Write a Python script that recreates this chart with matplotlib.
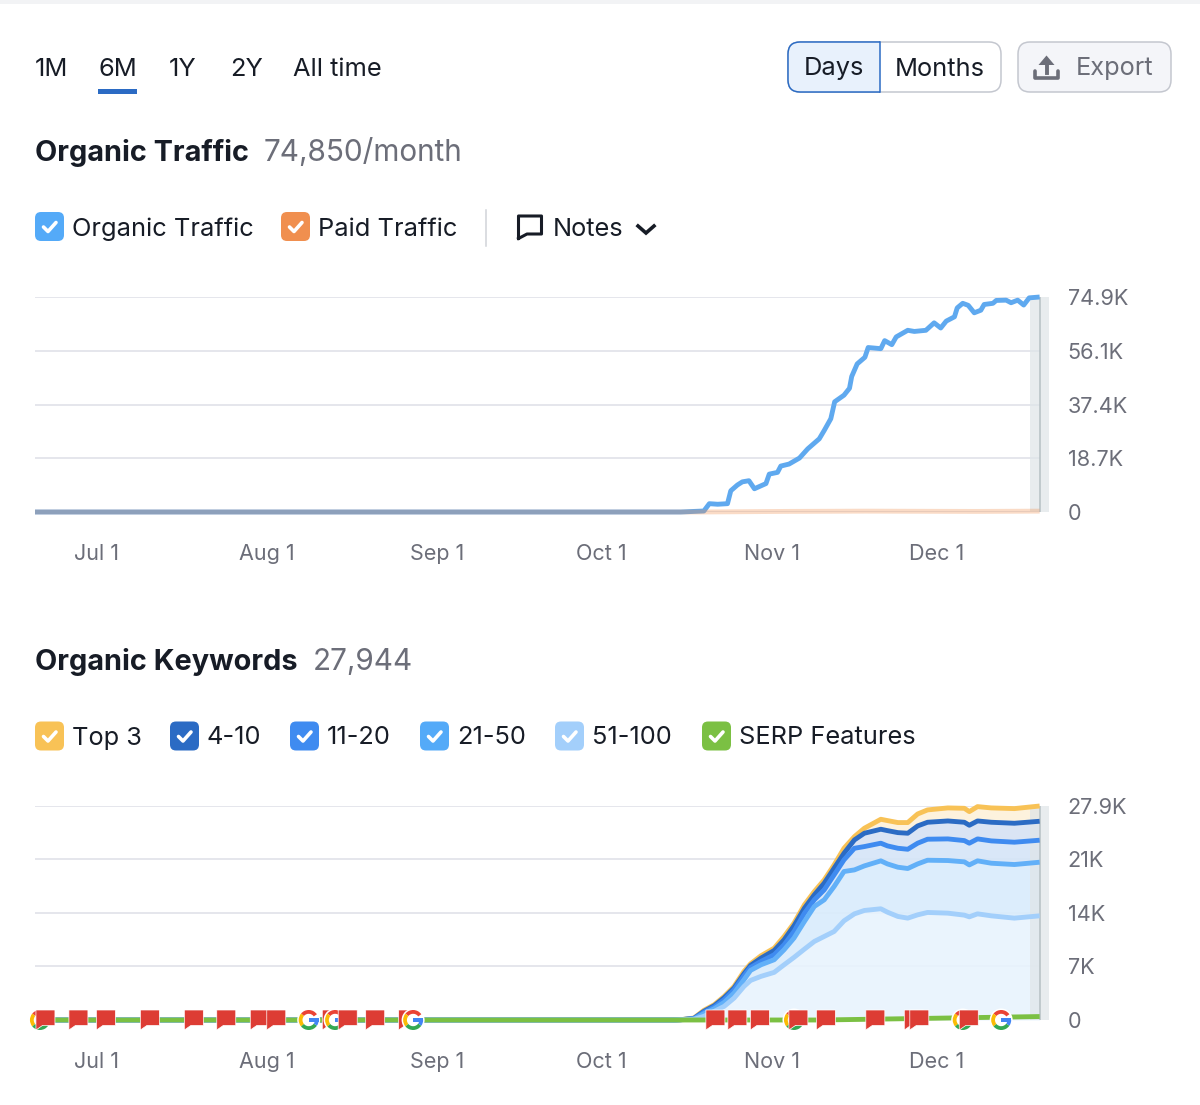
"""Organic Traffic / Organic Keywords dashboard card."""
import matplotlib
matplotlib.use("Agg")
import matplotlib.pyplot as plt
from matplotlib.patches import FancyBboxPatch, Polygon, Rectangle, Wedge

plt.rcParams["font.family"] = ["Inter", "DejaVu Sans"]

# ---------------------------------------------------------------------
# Data (x values are days after Jul 1, y values are thousands)
# ---------------------------------------------------------------------
MONTH_DAYS = [0, 31, 62, 92, 123, 153]
MONTH_LABELS = ["Jul 1", "Aug 1", "Sep 1", "Oct 1", "Nov 1", "Dec 1"]

TRAFFIC_DAYS = [-11.1, 106.4, 110.6, 111.6, 113.1, 114.9, 115.5, 116.7, 117.6, 118.8,
                119.8, 121.9, 122.5, 124.0, 124.6, 126.1, 128.0, 129.5, 131.6, 132.5,
                133.7, 134.4, 136.1, 137.1, 137.5, 138.5, 139.9, 140.5, 142.8, 143.5,
                144.8, 145.6, 147.7, 148.9, 151.0, 152.5, 153.7, 154.7, 156.2, 156.7,
                157.7, 158.7, 159.8, 161.0, 161.6, 163.2, 163.8, 165.6, 166.5, 167.7,
                168.8, 169.8, 171.7]
ORGANIC_TRAFFIC = [0, 0, 0.35, 2.9, 2.7, 2.9, 7.4, 9.4, 10.5, 10.9,
                   8.1, 9.9, 13.2, 13.8, 16.0, 16.7, 18.8, 22.0, 25.5, 28.4,
                   32.5, 38.4, 40.7, 43.1, 47.2, 51.6, 53.9, 57.3, 56.9, 59.7,
                   58.3, 61.0, 63.3, 62.9, 63.3, 65.9, 64.1, 66.5, 68.0, 71.1,
                   72.7, 72.0, 69.4, 70.3, 72.3, 72.7, 73.7, 73.8, 72.9, 73.8,
                   72.1, 74.6, 74.9]
PAID_DAYS = [-11.1, 110, 125, 140, 160, 171.7]
PAID_TRAFFIC = [0, 0, 0.2, 0.3, 0.2, 0.3]
TRAFFIC_TICKS = [0, 18.7, 37.4, 56.1, 74.9]
TRAFFIC_TICK_LABELS = ["0", "18.7K", "37.4K", "56.1K", "74.9K"]

KW_DAYS = [-11.1, 105.0, 106.4, 108.8, 110.6, 112.5, 114.3, 116.1, 117.9, 119.1, 121.0,
           123.4, 125.2, 127.0, 128.9, 130.7, 132.5, 134.3, 136.1, 138.0, 139.8,
           142.8, 144.0, 145.9, 147.7, 149.5, 151.3, 155.0, 158.0, 158.9, 160.4,
           162.9, 167.1, 171.7]
TOP_3 = [0, 0, 0.04, 0.26, 1.26, 2.0, 3.08, 4.38, 6.34, 7.33, 8.38,
         9.37, 10.89, 12.63, 15.02, 16.75, 18.27, 20.22, 22.39, 23.91, 25.0,
         26.17, 26.0, 25.74, 25.74, 26.86, 27.39, 27.65, 27.6, 27.17, 27.82,
         27.65, 27.56, 27.9]
POS_4_10 = [0, 0, 0.04, 0.22, 1.13, 1.87, 2.91, 4.17, 6.03, 7.12, 8.07,
            9.07, 10.46, 12.28, 14.58, 16.32, 17.84, 19.79, 21.74, 23.48, 24.35,
            24.87, 24.69, 24.43, 24.35, 25.3, 25.78, 25.95, 25.78, 25.39, 25.95,
            25.78, 25.65, 25.91]
POS_11_20 = [0, 0, 0.04, 0.17, 1.0, 1.69, 2.65, 3.95, 5.77, 6.86, 7.64,
             8.51, 9.81, 11.54, 13.93, 15.67, 16.97, 18.92, 20.88, 22.39, 22.61,
             23.05, 22.7, 22.39, 22.26, 23.05, 23.57, 23.61, 23.39, 23.05, 23.61,
             23.35, 23.18, 23.44]
POS_21_50 = [0, 0, 0.04, 0.13, 0.82, 1.48, 2.3, 3.52, 5.25, 6.47, 7.2,
             7.86, 9.16, 10.68, 12.85, 14.8, 15.67, 17.4, 19.36, 19.57, 20.09,
             20.75, 20.35, 19.92, 19.75, 20.35, 20.83, 20.79, 20.62, 20.22, 20.75,
             20.44, 20.27, 20.57]
POS_51_100 = [0, 0, 0.04, 0.09, 0.48, 1.13, 1.78, 2.86, 4.38, 5.16, 5.69,
              6.21, 7.2, 8.16, 9.24, 10.24, 10.89, 11.54, 12.93, 13.84, 14.28,
              14.5, 14.06, 13.5, 13.28, 13.71, 14.02, 13.93, 13.67, 13.45, 13.84,
              13.58, 13.28, 13.58]
SERP_DAYS = [-11.1, 132, 150, 171.7]
SERP_FEATURES = [0, 0, 0.2, 0.45]
KW_TICKS = [0, 7, 14, 21, 27.9]
KW_TICK_LABELS = ["0", "7K", "14K", "21K", "27.9K"]

NOTE_DAYS = [-9.2, -3.2, 1.8, 9.8, 17.8, 23.7, 29.8, 32.8, 42.9, 45.8, 50.8, 56.8,
             112.7, 116.7, 120.8, 127.8, 132.8, 141.8, 148.8, 149.8, 158.8]
GOOGLE_DAYS = [-10.2, 38.7, 43.5, 57.7, 127.0, 157.7, 164.7]

# ---------------------------------------------------------------------
# Style
# ---------------------------------------------------------------------
W, H = 1200, 1105
INK = "#171c26"
GREY = "#6c6e79"
GRID = "#e0e1e9"
BORDER = "#c4c7cf"
BLUE = "#54aaf8"
ORANGE = "#f08f4f"
YELLOW = "#f8c256"
DARK = "#2b6bc4"
MID = "#3f8bf0"
LIGHT = "#62b0f8"
PALE = "#a3cffb"
GREEN = "#7bc043"
LINE_W = 3.5
X_MIN, X_MAX = -11.1, 173.4

fig = plt.figure(figsize=(W / 100, H / 100), dpi=100, facecolor="white")


def px_axes(left, top, right, bottom, **kw):
    return fig.add_axes([left / W, 1 - bottom / H, (right - left) / W, (bottom - top) / H], **kw)


def chart_axes(top, bottom, ymax, ticks, labels):
    ax = px_axes(35, top, 1049, bottom)
    ax.set_xlim(X_MIN, X_MAX)
    ax.set_ylim(0, ymax)
    for s in ax.spines.values():
        s.set_visible(False)
    ax.yaxis.tick_right()
    ax.set_yticks(ticks)
    ax.set_yticklabels(labels)
    ax.set_xticks(MONTH_DAYS)
    ax.set_xticklabels(MONTH_LABELS)
    ax.tick_params(axis="y", length=0, pad=13.5, labelsize=15.6, labelcolor=GREY)
    ax.tick_params(axis="x", length=0, pad=23, labelsize=15.5, labelcolor=GREY)
    ax.hlines(ticks, X_MIN, 171.7, color=GRID, lw=1.2, zorder=1)
    # last, incomplete period
    ax.axvspan(170.0, X_MAX, color="#dfe5e8", alpha=0.7, lw=0, zorder=3)
    ax.vlines(171.7, 0, ymax, color="#b6c0c4", lw=1.1, zorder=3)
    return ax


def plot_line(ax, x, y, color, zorder, alpha=1.0):
    ax.plot(x, y, color=color, lw=LINE_W, alpha=alpha, clip_on=False, zorder=zorder,
            solid_joinstyle="round", solid_capstyle="butt")


# ---------------------------------------------------------------------
# Charts
# ---------------------------------------------------------------------
ax1 = chart_axes(297, 512, 74.9, TRAFFIC_TICKS, TRAFFIC_TICK_LABELS)
plot_line(ax1, TRAFFIC_DAYS, ORGANIC_TRAFFIC, "#5fa9ef", 4)
plot_line(ax1, PAID_DAYS, PAID_TRAFFIC, ORANGE, 5, alpha=0.32)

ax2 = chart_axes(806, 1020, 27.9, KW_TICKS, KW_TICK_LABELS)
layers = [
    (TOP_3, POS_4_10, "#fdf1da", YELLOW),
    (POS_4_10, POS_11_20, "#d6e2f3", DARK),
    (POS_11_20, POS_21_50, "#d5e5f8", MID),
    (POS_21_50, POS_51_100, "#d9ecfc", LIGHT),
    (POS_51_100, [0] * len(KW_DAYS), "#e8f3fd", PALE),
]
for i, (upper, lower, fill, color) in enumerate(layers):
    ax2.fill_between(KW_DAYS, lower, upper, color=fill, alpha=0.9, lw=0, zorder=2)
    plot_line(ax2, KW_DAYS, upper, color, 4 + i * 0.1)
plot_line(ax2, SERP_DAYS, SERP_FEATURES, GREEN, 5)

# ---------------------------------------------------------------------
# Page furniture, drawn in pixel coordinates
# ---------------------------------------------------------------------
ui = px_axes(0, 0, W, H, zorder=10)
ui.set_xlim(0, W)
ui.set_ylim(H, 0)
ui.axis("off")
ui.patch.set_alpha(0)


def label(x, y, s, size=18.3, color=INK, weight="normal"):
    ui.text(x, y + 2, s, fontsize=size, color=color, fontweight=weight, ha="left", va="center")


def round_box(x0, y0, x1, y1, r, face, edge, lw=1.1, zorder=2):
    box = FancyBboxPatch((x0 + r, y0 + r), x1 - x0 - 2 * r, y1 - y0 - 2 * r,
                         boxstyle=f"round,pad={r},rounding_size={r}",
                         fc=face, ec=edge, lw=lw, zorder=zorder)
    ui.add_patch(box)
    return box


def checkbox(x, y, color):
    round_box(x, y, x + 29, y + 29, 6, color, color, lw=0)
    ui.plot([x + 8.5, x + 13, x + 21], [y + 15, y + 19.5, y + 10.5], color="white", lw=2.6,
            solid_capstyle="round", solid_joinstyle="round", zorder=3)


ui.add_patch(Rectangle((0, 0), W, 4, fc="#f2f3f5", lw=0))

for x, s in zip([35, 98, 169, 230, 293], ["1M", "6M", "1Y", "2Y", "All time"]):
    label(x, 67, s)
ui.add_patch(Rectangle((98, 89), 39, 5, fc=DARK, lw=0))

round_box(788, 42, 1001, 92, 12, "white", BORDER)
days = round_box(788, 42, 900, 92, 12, "#e8f1fc", DARK)
days.set_clip_path(Rectangle((780, 30), 100, 70, transform=ui.transData))
ui.plot([880, 880], [42, 92], color=DARK, lw=1.1, zorder=3)
label(804, 67, "Days")
label(895, 67, "Months")

round_box(1018, 42, 1171, 92, 12, "#f4f5f9", BORDER)
ui.plot([1035, 1035, 1058, 1058], [71, 78, 78, 71], color=GREY, lw=2.6, zorder=3,
        solid_joinstyle="round", solid_capstyle="round")
ui.plot([1046.5, 1046.5], [62, 73], color=GREY, lw=2.8, zorder=3)
ui.add_patch(Polygon([(1038.5, 65), (1046.5, 55.5), (1054.5, 65)], closed=True,
                     fc=GREY, lw=0, zorder=3))
label(1076, 67, "Export", color=GREY)

label(35, 151, "Organic Traffic", size=20.8, weight="bold")
label(264, 151, "74,850/month", size=21.4, color=GREY)

checkbox(35, 212, BLUE)
label(72, 227, "Organic Traffic")
checkbox(281, 212, ORANGE)
label(318, 227, "Paid Traffic")
ui.plot([485.5, 485.5], [210, 246], color="#d1d3d9", lw=1.1)
ui.plot([518.5, 518.5, 541.5, 541.5, 527, 518.5],
        [238.5, 216, 216, 234, 234, 238.5], color=INK, lw=2.2, solid_joinstyle="round")
label(553, 227, "Notes")
ui.plot([638, 646, 654], [226, 233, 226], color=INK, lw=2.6, solid_joinstyle="miter")

label(35, 660, "Organic Keywords", size=20.8, weight="bold")
label(313, 660, "27,944", size=21.4, color=GREY)

kw_legend = [(35, YELLOW, 72, "Top 3"), (170, DARK, 207, "4-10"), (290, MID, 327, "11-20"),
             (420, BLUE, 457, "21-50"), (555, PALE, 592, "51-100"),
             (702, GREEN, 739, "SERP Features")]
for bx, color, tx, s in kw_legend:
    checkbox(bx, 721.5, color)
    label(tx, 736, s)


# ---------------------------------------------------------------------
# Event markers on the keyword baseline
# ---------------------------------------------------------------------
def to_ui(day, value=0):
    return ui.transData.inverted().transform(ax2.transData.transform((day, value)))


def note_flag(x, y, z):
    pts = [(x - 9.5, y - 10), (x + 9.5, y - 10), (x + 9.5, y + 5.5), (x - 3, y + 5.5),
           (x - 9.5, y + 10), (x - 9.5, y - 10)]
    ui.add_patch(Polygon(pts, closed=True, fc="#dd3c34", ec="white", lw=0.5, zorder=z))


def google_icon(x, y, z):
    ui.add_patch(Wedge((x, y), 11.5, 0, 360, fc="white", lw=0, zorder=z))
    # angles run clockwise on screen because this axes has y pointing down
    for t1, t2, color in [(-140, -35, "#ea4335"), (140, 220, "#fbbc05"),
                          (35, 140, "#34a853"), (0, 35, "#4285f4")]:
        ui.add_patch(Wedge((x, y), 10, t1, t2, width=3.8, fc=color, lw=0, zorder=z))
    ui.add_patch(Rectangle((x, y - 1.9), 10, 3.8, fc="#4285f4", lw=0, zorder=z))


events = [(to_ui(d)[0] - 9, "note", d) for d in NOTE_DAYS] + \
         [(to_ui(d)[0] - 10, "google", d) for d in GOOGLE_DAYS]
for k, (_, kind, d) in enumerate(sorted(events, key=lambda e: e[0])):
    x, y = to_ui(d)
    if kind == "note":
        note_flag(x, y, 5 + k * 0.1)
    else:
        google_icon(x, y, 5 + k * 0.1)

fig.savefig("out.png", dpi=100)
